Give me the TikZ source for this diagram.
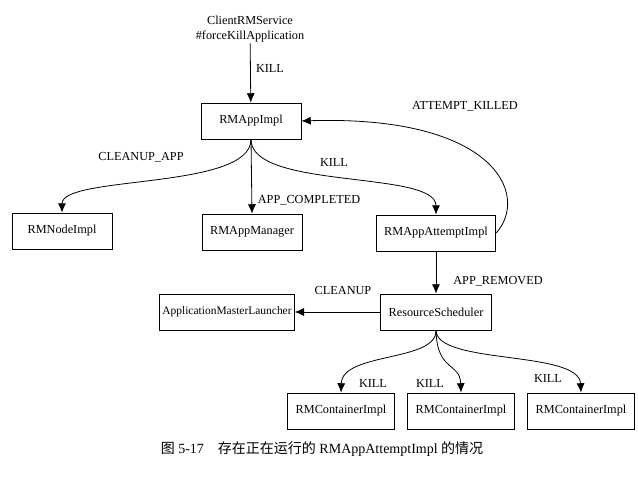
\documentclass[tikz,border=0pt]{standalone}
\usepackage{fontspec}
\setmainfont{Liberation Serif}
\newfontfamily\cjk{Noto Sans CJK SC}
\usetikzlibrary{shapes,arrows.meta}

\begin{document}
\begin{tikzpicture}[x=0.75pt, y=-0.75pt,
    block/.style ={rectangle, draw=black, line width=0.6pt, fill=white,
      minimum width=75pt, minimum height=27pt, inner xsep=6pt,
      font=\fontsize{9.2}{11}\selectfont},
    block_noborder/.style ={rectangle, draw=none, fill=none, align=center,
      inner sep=1pt, font=\fontsize{9.2}{11}\selectfont},
    line/.style ={draw, line width=0.6pt, -{Latex[length=7pt,width=6pt]}, shorten >=0pt}]

    \useasboundingbox (0,0) rectangle (638,477);

    % Place nodes
    \node [block_noborder] (client) at (250,29) {ClientRMService\\\#forceKillApplication};
    \node [block] (rmApp) at (251,121) {RMAppImpl};
    \node [block] (rmNode) at (62,231) {RMNodeImpl};
    \node [block] (appManager) at (252,232) {RMAppManager};
    \node [block] (attempt) at (436,233) {RMAppAttemptImpl};
    \node [block] (scheduler) at (436,312) {ResourceScheduler};
    \node [block, inner xsep=2pt, font=\fontsize{8.6}{11}\selectfont] (launcher) at (227,312) {ApplicationMasterLauncher};
    \node [block] (cont1) at (341,411) {RMContainerImpl};
    \node [block] (cont2) at (461,411) {RMContainerImpl};
    \node [block] (cont3) at (581,411) {RMContainerImpl};

    % labels of the events
    \node [block_noborder] (killClient) at (270,68) {KILL};
    \node [block_noborder] (cleanupApp) at (141,157) {CLEANUP\_APP};
    \node [block_noborder] (appCompleted) at (309,200) {APP\_COMPLETED};
    \node [block_noborder] (killAttempt) at (334,162) {KILL};
    \node [block_noborder] (attemptKilled) at (465,106) {ATTEMPT\_KILLED};
    \node [block_noborder] (appRemoved) at (498,281) {APP\_REMOVED};
    \node [block_noborder] (cleanup) at (343,290) {CLEANUP};
    \node [block_noborder] (kill1) at (373,383) {KILL};
    \node [block_noborder] (kill2) at (430,383) {KILL};
    \node [block_noborder] (kill3) at (548,378) {KILL};

    % caption
    \node [block_noborder, font=\fontsize{10.5}{12}\selectfont] (caption) at (322,449)
      {{\cjk 图} 5-17\quad{\cjk 存在正在运行的} RMAppAttemptImpl {\cjk 的情况}};

    \begin{scope}[every path/.style=line]
    % paths from RMAppImpl
    \path (client) -- (rmApp);
    \path (rmApp.south) .. controls (251,190) and (62,175) .. (rmNode.north);
    \path (rmApp.south) -- (appManager.north);
    \path (rmApp.south) .. controls (251,190) and (436,170) .. (attempt.north);
    \path (attempt.east) .. controls (530,195) and (495,115) .. (rmApp.east);

    % paths from the scheduler
    \path (attempt) -- (scheduler);
    \path (scheduler) -- (launcher);
    \path (scheduler.south) .. controls (437,362) and (342,352) .. (cont1.north);
    \path (scheduler.south) .. controls (437,372) and (460,362) .. (cont2.north);
    \path (scheduler.south) .. controls (437,365) and (579,350) .. (cont3.north);
    \end{scope}

  \end{tikzpicture}
\end{document}
